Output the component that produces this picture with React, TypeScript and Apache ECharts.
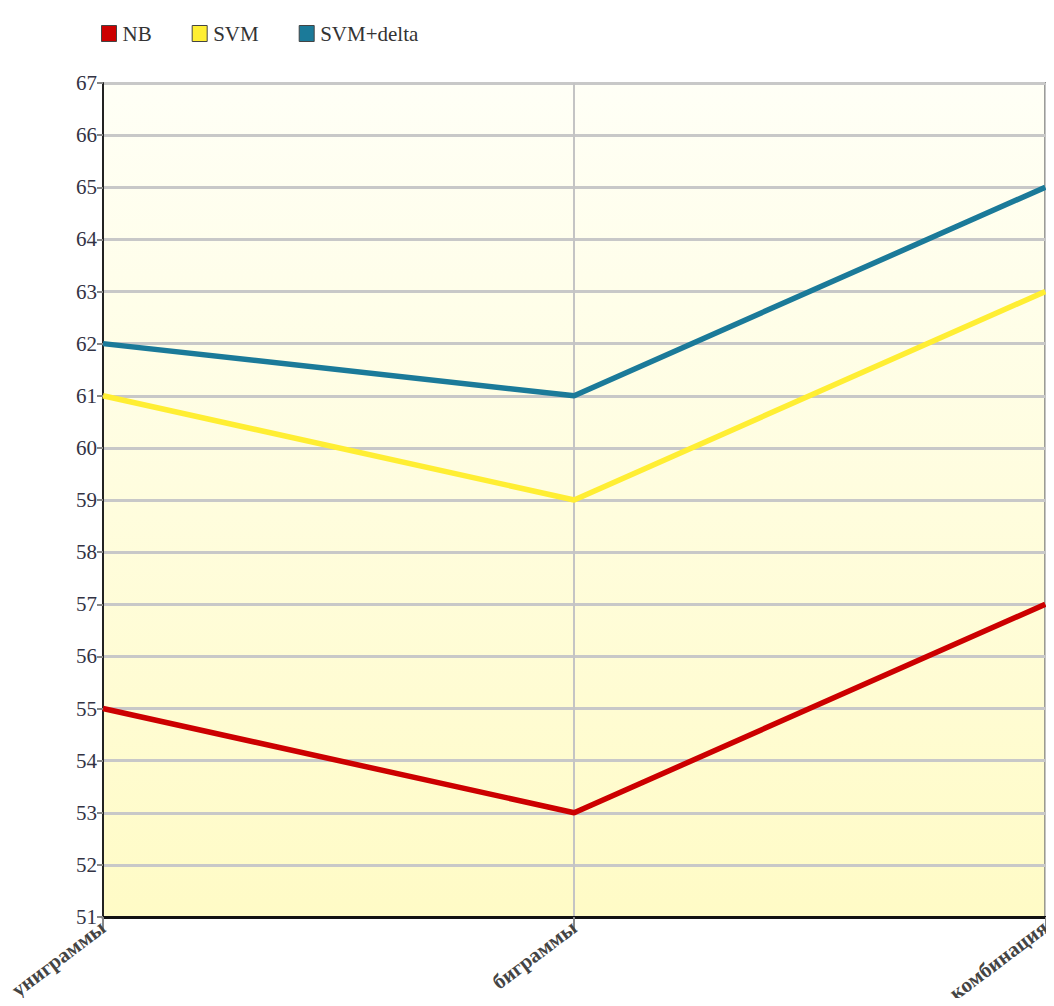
import React, { useEffect, useRef } from "react";
import * as echarts from "echarts";

const categories = ["униграммы", "биграммы", "комбинация"];
const nbValues = [55, 53, 57];
const svmValues = [61, 59, 63];
const svmDeltaValues = [62, 61, 65];
const seriesNames = ["NB", "SVM", "SVM+delta"];
const colors = ["#cc0000", "#ffee33", "#1b7a99"];

export default function App() {
  const ref = useRef<HTMLDivElement>(null);
  useEffect(() => {
    const chart = echarts.init(ref.current!, null, { renderer: "svg" });
    const font = "'Liberation Serif', 'DejaVu Serif', serif";
    const data = [nbValues, svmValues, svmDeltaValues];
    chart.setOption({
      animation: false,
      textStyle: { fontFamily: font },
      legend: {
        left: 96,
        top: 18,
        itemWidth: 15,
        itemHeight: 16,
        itemGap: 40,
        icon: "rect",
        textStyle: { fontFamily: font, fontSize: 21, color: "#333", padding: [0, 0, 0, 1] },
        data: seriesNames.map((n, i) => ({
          name: n,
          itemStyle: { color: colors[i], borderColor: "#444", borderWidth: 1 },
        })),
      },
      grid: {
        left: 103,
        right: 8,
        top: 83,
        bottom: 89,
        show: true,
        borderColor: "#777",
        borderWidth: 2,
        backgroundColor: new echarts.graphic.LinearGradient(0, 0, 0, 1, [
          { offset: 0, color: "#fffff6" },
          { offset: 1, color: "#fffbc6" },
        ]),
      },
      xAxis: {
        type: "category",
        data: categories,
        boundaryGap: false,
        axisLine: { lineStyle: { color: "#111", width: 3 } },
        axisTick: { show: true, length: 14, lineStyle: { color: "#888", width: 2 } },
        axisLabel: {
          rotate: 37,
          fontFamily: font,
          fontSize: 21,
          fontWeight: "bold",
          color: "#444",
          margin: 8,
          interval: 0,
        },
        splitLine: { show: true, lineStyle: { color: "#c4c4c4", width: 2 } },
      },
      yAxis: {
        type: "value",
        min: 51,
        max: 67,
        interval: 1,
        axisLine: { show: true, lineStyle: { color: "#222", width: 2 } },
        axisTick: { show: true, length: 6, lineStyle: { color: "#888", width: 2 } },
        axisLabel: { fontFamily: font, fontSize: 21, color: "#334", margin: 6 },
        splitLine: { show: true, lineStyle: { color: "#c8c8c8", width: 3 } },
      },
      series: seriesNames.map((n, i) => ({
        name: n,
        type: "line",
        data: data[i],
        symbol: "none",
        lineStyle: { color: colors[i], width: 5.5 },
        itemStyle: { color: colors[i] },
      })),
    });
    return () => chart.dispose();
  }, []);
  return <div ref={ref} style={{ width: 1054, height: 1006, margin: -8 }} />;
}
